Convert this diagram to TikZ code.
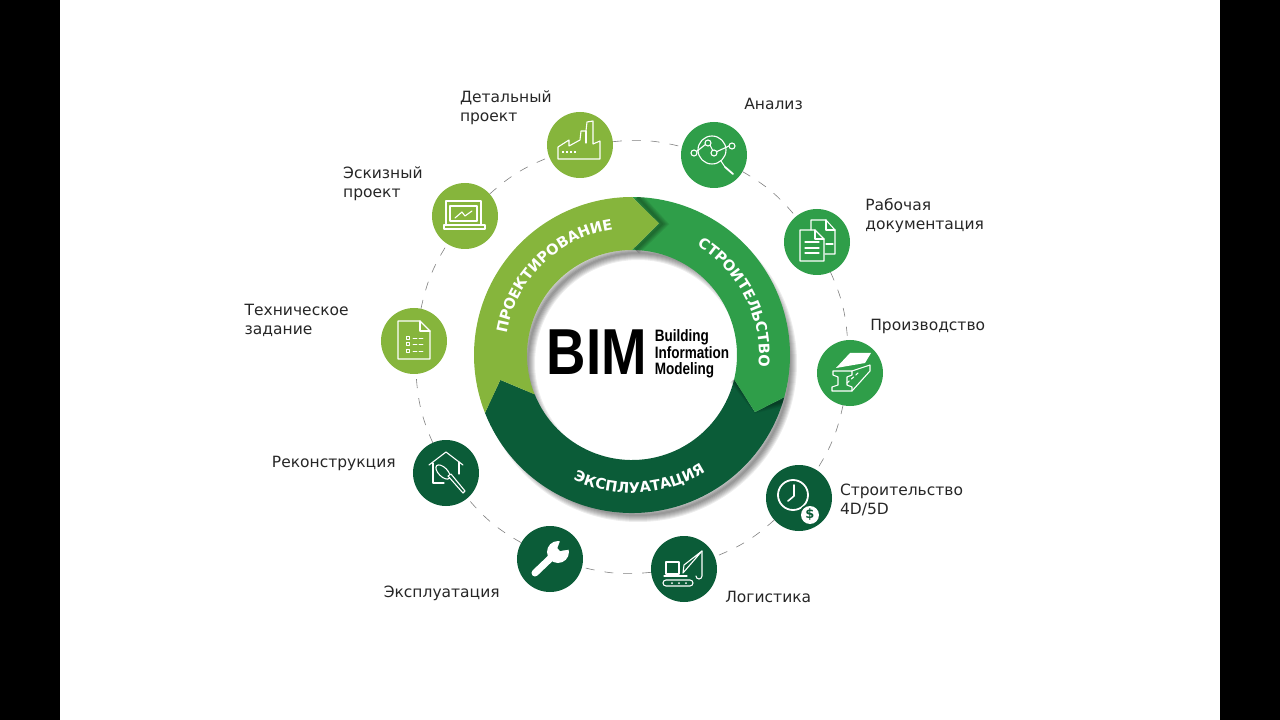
\documentclass[tikz,border=0pt]{standalone}
\usepackage{fontspec}
\setmainfont{DejaVu Sans}
\newfontfamily\heavyfont{Liberation Sans}
\usetikzlibrary{positioning,decorations.text}

\definecolor{leafg}{HTML}{86B53C}
\definecolor{midg}{HTML}{2F9E49}
\definecolor{deepg}{HTML}{0B5C38}

\tikzset{
    spot/.style={circle, minimum size=66pt, inner sep=0pt, outer sep=0pt, draw=none},
    lab/.style={align=left, inner sep=0pt, outer sep=0pt, text=black!85, font=\fontsize{15.5}{19}\selectfont},
    dashlink/.style={draw=black!50, line width=0.6pt, dash pattern=on 9pt off 10pt},
    iconline/.style={draw=white, line width=1.1pt, line join=round, line cap=round},
    softdrop/.style={black, opacity=0.07},
}
\newcommand{\ringfont}{\fontsize{14.6}{14.6}\selectfont\bfseries\color{white}}

\begin{document}
\begin{tikzpicture}[x=1pt, y=1pt]
\useasboundingbox (-632,-365) rectangle (648,355);
\fill[black] (-632,-365) rectangle (-572,355);
\fill[black] (588,-365) rectangle (648,355);

%Shadows of the ring
\foreach \w in {2,4,...,14} {
    \draw[softdrop, line width=\w pt] (6,-8) circle (152);
    \draw[softdrop, line width=\w pt] (6,-8) circle (110);
}

%Ring
\fill[deepg] (-15.5:158) arc[start angle=-15.5, end angle=-158.5, radius=158]
    -- (190.7:134) -- (202:105) arc[start angle=202, end angle=346.6, radius=105]
    -- (-24.9:135.6) -- cycle;
\begin{scope}
    \clip (0,0) circle (158);
    \foreach \w in {2,4,...,10} {
        \draw[softdrop, line width=\w pt] (-15.5:158) ++(2,-3) -- (-22.9:135.6) -- (-13.4:105);
    }
\end{scope}
\fill[midg] (90:158) arc[start angle=90, end angle=-15.5, radius=158]
    -- (-24.9:135.6) -- (-13.4:105) arc[start angle=-13.4, end angle=90, radius=105]
    -- (78.5:134.5) -- cycle;
\begin{scope}
    \clip (0,0) circle (158);
    \foreach \w in {2,4,...,10} {
        \draw[softdrop, line width=\w pt] (88:158) -- (77:134.5) -- (88:105);
    }
\end{scope}
\fill[leafg] (90:158) -- (78.5:134.5) -- (90:105)
    arc[start angle=90, end angle=202, radius=105]
    -- (190.7:134) -- (201.5:158)
    arc[start angle=201.5, end angle=90, radius=158] -- cycle;

%Ring texts
\path[decorate, decoration={text along path, text align=center,
    text={|\ringfont|ПРОЕКТИРОВАНИЕ}}]
    (190:127) arc[start angle=190, end angle=79, radius=127];
\path[decorate, decoration={text along path, text align=center,
    text={|\ringfont|СТРОИТЕЛЬСТВО}}]
    (78:127) arc[start angle=78, end angle=-24, radius=127];
\path[decorate, decoration={text along path, text align=center,
    text={|\ringfont|ЭКСПЛУАТАЦИЯ}}]
    (222:138) arc[start angle=222, end angle=325, radius=138];

%Centre
\node[inner sep=0pt, xscale=0.84, font=\heavyfont\fontsize{65}{65}\selectfont\bfseries] (bim) at (-35,3) {BIM};
\node[inner sep=0pt, xscale=0.82, align=left, font=\heavyfont\fontsize{16.5}{16.5}\selectfont\bfseries]
    (bimtxt) at (60,1) {Building\\Information\\Modeling};

%Spots
\node[spot, fill=leafg] (detail) at (-52,210)  {};
\node[spot, fill=midg]  (analiz) at (82,200)   {};
\node[spot, fill=midg]  (rabota) at (185,113)  {};
\node[spot, fill=midg]  (proizv) at (218,-18)  {};
\node[spot, fill=deepg] (stroit) at (167,-143) {};
\node[spot, fill=deepg] (logist) at (52,-214)  {};
\node[spot, fill=deepg] (ekspl)  at (-82,-204) {};
\node[spot, fill=deepg] (rekon)  at (-186,-118) {};
\node[spot, fill=leafg] (tehzad) at (-218,14)  {};
\node[spot, fill=leafg] (eskiz)  at (-167,139) {};

%Labels
\node[lab] (detailtxt) [above left=-3pt and 5pt of detail] {Детальный\\проект};
\node[lab] (analiztxt) [above right=22pt and 7pt of analiz] {Анализ};
\node[lab] (rabotatxt) [above right=-14pt and 25pt of rabota] {Рабочая\\документация};
\node[lab] (proizvtxt) [above right=16pt and -3pt of proizv] {Производство};
\node[lab] (stroittxt) [right=8pt of stroit, yshift=-1.5pt] {Строительство\\4D/5D};
\node[lab] (logisttxt) [below right=-1pt and 18pt of logist] {Логистика};
\node[lab] (eksptxt)   [below left=4pt and 27pt of ekspl] {Эксплуатация};
\node[lab] (rekontxt)  [above left=-21pt and 27pt of rekon] {Реконструкция};
\node[lab] (tehzadtxt) [above left=-19pt and 42pt of tehzad] {Техническое\\задание};
\node[lab] (eskiztxt)  [above left=-8pt and 19pt of eskiz] {Эскизный\\проект};

%Lines
\foreach \a/\b in {detail/analiz, analiz/rabota, rabota/proizv, proizv/stroit, stroit/logist,
    logist/ekspl, ekspl/rekon, rekon/tehzad, tehzad/eskiz, eskiz/detail} {
    \draw[dashlink] (\a) to[bend left=10] (\b);
}

%Icons
\begin{scope}[shift={(detail)}, iconline]
    \draw (-22,-14) -- (-22,-2) -- (-11,5) -- (-11,-1) -- (0,5) -- (1,14) -- (6,14) -- (7,23) -- (13,24) -- (13,1) -- (20,4) -- (20,-14) -- cycle;
    \draw (6,14) -- (6,2);
    \foreach \x in {-17,-13,-9,-5} \fill[white] (\x-1.3,-8.3) rectangle (\x+1.3,-5.7);
\end{scope}
\begin{scope}[shift={(eskiz)}, iconline]
    \draw (-19,-8) -- (-19,15) -- (16,15) -- (16,-8);
    \draw (-15,-5) rectangle (12,10);
    \draw (-21,-9) rectangle (20,-13);
    \draw (-10,-2) -- (-3,4) -- (0,0) -- (7,5);
\end{scope}
\begin{scope}[shift={(tehzad)}, iconline]
    \draw (-16,-18) -- (-16,20) -- (6,20) -- (16,10) -- (16,-18) -- cycle;
    \draw (6,20) -- (6,10) -- (16,10);
    \foreach \y in {3,-3,-10} {
        \draw[line width=0.8pt] (-8,\y-1.5) rectangle (-5,\y+1.5);
        \draw[line width=0.8pt] (-1,\y) -- (3,\y) (5,\y) -- (9,\y);
    }
\end{scope}
\begin{scope}[shift={(analiz)}, iconline]
    \draw (-2,5) circle (14);
    \draw (7,-6) -- (11,-12);
    \draw[line width=1.8pt] (11,-12) -- (19,-19);
    \draw (-18,3) -- (-8,11) (-4,10) -- (-1,4) (2,3) -- (15,9);
    \foreach \x/\y in {-20/2, -6/12, 0/2, 18/9} \draw[fill=midg] (\x,\y) circle (3);
\end{scope}
\begin{scope}[shift={(rabota)}, iconline]
    \draw (-6,12) -- (-6,22) -- (9,22) -- (18,12) -- (18,-12) -- (8,-12);
    \draw (9,22) -- (9,12) -- (18,12);
    \draw (9,-2) -- (16,-2);
    \draw (-17,-19) -- (-17,12) -- (-2,12) -- (7,3) -- (7,-19) -- cycle;
    \draw (-2,12) -- (-2,3) -- (7,3);
    \foreach \y in {0,-6,-11} \draw (-12,\y) -- (2,\y);
\end{scope}
\begin{scope}[shift={(proizv)}, iconline]
    \fill[white] (0,20) -- (21,20) -- (15,10) -- (-14,5) -- cycle;
    \draw (-17,2) -- (2,2) -- (2,-2) -- (-3,-4) -- (-3,-12) -- (2,-14) -- (2,-18) -- (-18,-18) -- (-18,-14) -- (-12,-12) -- (-12,-4) -- (-17,-2) -- cycle;
    \draw (2,2) -- (20,8) -- (20,2) -- (2,-18);
    \draw[dashed] (-3,-10) -- (8,0);
\end{scope}
\begin{scope}[shift={(stroit)}, iconline]
    \draw[line width=1.8pt] (-6,3) circle (15);
    \draw[line width=1.6pt] (-5,13) -- (-5,2) -- (-11,-3);
    \fill[deepg] (11,-17) circle (11);
    \fill[white] (11,-17) circle (9);
    \node[inner sep=0pt, text=deepg, font=\fontsize{13}{13}\selectfont\bfseries] (dollar) at (11,-17) {\$};
\end{scope}
\begin{scope}[shift={(logist)}, iconline]
    \draw (-18,-5) -- (-18,7) -- (-5,7) -- (-5,-5) -- cycle;
    \draw (-20,-7) -- (3,-7);
    \draw (-18,-11) -- (6,-11) arc[start angle=90, end angle=-90, radius=3] -- (-18,-17) arc[start angle=270, end angle=90, radius=3];
    \foreach \x in {-12,-5,2} \fill[white] (\x,-14) circle (1);
    \draw (-1,-4) -- (18,18) -- (0,4) -- cycle;
    \draw (18,18) -- (18,-7) arc[start angle=0, end angle=-180, radius=3];
\end{scope}
\begin{scope}[shift={(ekspl)}, iconline]
    \draw[line width=7pt] (-15,-14) -- (7,7);
    \fill[white] (8,7) circle (11);
    \fill[deepg] (10.5,19) -- (7.5,11) -- (10,8) -- (19,9.5) -- (21,20) -- cycle;
\end{scope}
\begin{scope}[shift={(rekon)}, iconline]
    \draw (-17,8) -- (0,21) -- (17,8);
    \draw (-13,10) -- (-13,-10) -- (-2,-10);
    \draw (13,11) -- (13,-1);
    \draw[fill=deepg, rotate around={-45:(-3,1)}] (-3,1) ellipse (9 and 4.5);
    \draw[fill=deepg] (2,-3) -- (17,-20) -- (19,-18) -- (5,-1) -- cycle;
\end{scope}
\end{tikzpicture}
\end{document}
